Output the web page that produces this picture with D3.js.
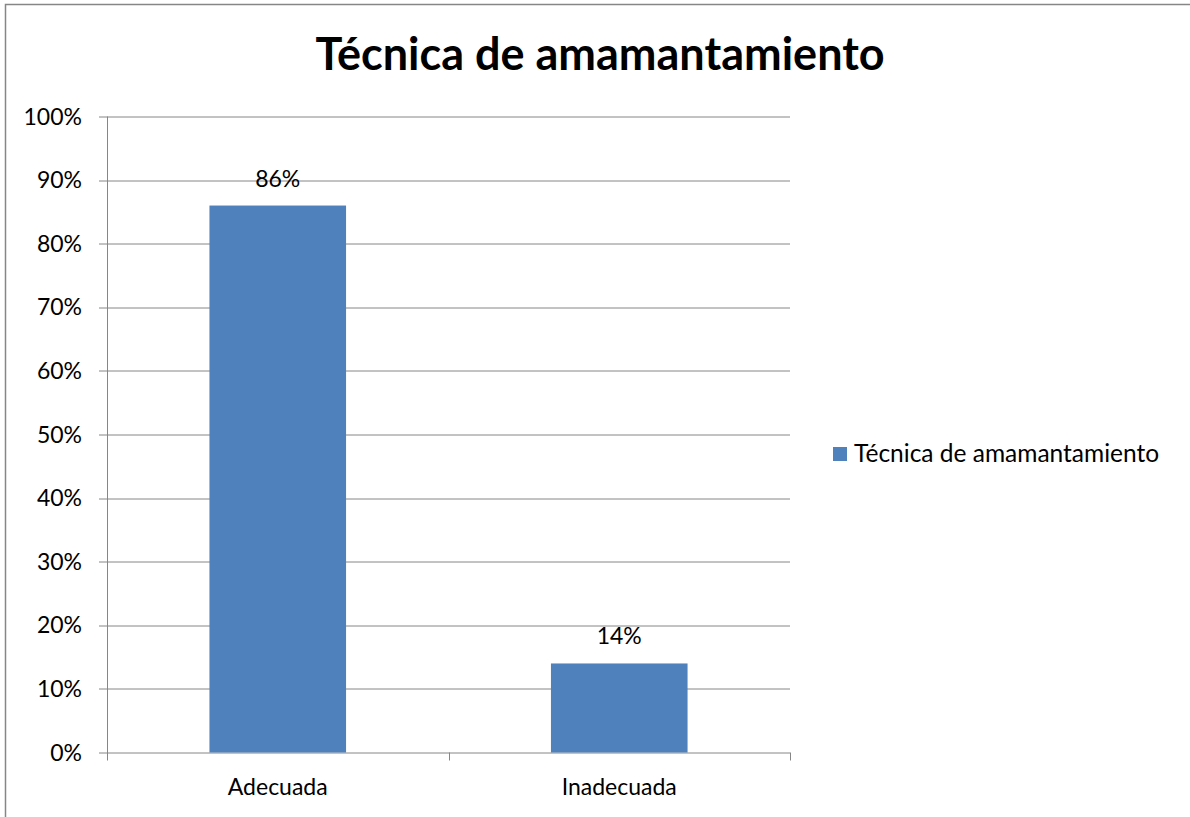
<!DOCTYPE html>
<html>
<head>
<meta charset="utf-8">
<script src="https://cdn.jsdelivr.net/npm/d3@7"></script>
<style>
  body { margin: 0; background: #fff; }
  text { font-family: Lato, "Open Sans", sans-serif; fill: #000; }
</style>
</head>
<body>
<script>
 ///////////////////////////////////////////////////////
 // data

 var categories = ["Adecuada", "Inadecuada"];
 var values = [0.86, 0.14];
 var seriesName = "Técnica de amamantamiento";
 var tickValues = [0, 0.1, 0.2, 0.3, 0.4, 0.5, 0.6, 0.7, 0.8, 0.9, 1];

 ///////////////////////////////////////////////////////
 // margins

 var w = 1190;
 var h = 817;
 var svg = d3.select("body").append("svg")
   .attr("width", w)
   .attr("height", h),
   margin = { top: 116.5, left: 107, right: 400, bottom: 64.5 },
   width = w - margin.left - margin.right,
   height = h - margin.top - margin.bottom;

 // outer chart border
 svg.append("rect")
   .attr("x", 5.5).attr("y", 4.5)
   .attr("width", w + 10).attr("height", h + 10)
   .attr("fill", "none")
   .attr("stroke", "#868686")
   .attr("stroke-width", 1.5);

 ///////////////////////////////////////////////////////
 // scales

 var x = d3.scaleBand()
   .domain(categories)
   .range([0, width])
   .paddingInner(0.6)
   .paddingOuter(0.3);
 var xEdge = d3.scaleLinear().domain([0, categories.length]).range([0, width]);
 var y = d3.scaleLinear()
   .domain([0, 1])
   .range([height, 0]);

 var chart = svg.append("g")
   .attr("transform", "translate(" + margin.left + "," + margin.top + ")");

 // gridlines
 chart.append("g")
   .selectAll("line")
   .data(tickValues)
   .enter().append("line")
   .attr("x1", -8)
   .attr("x2", width)
   .attr("y1", function(d) { return Math.round(y(d)) + 0.5; })
   .attr("y2", function(d) { return Math.round(y(d)) + 0.5; })
   .attr("stroke", "#868686")
   .attr("stroke-width", 1);

 // y axis line
 chart.append("line")
   .attr("x1", 0.5).attr("x2", 0.5)
   .attr("y1", 0).attr("y2", height + 8)
   .attr("stroke", "#868686");

 // y tick labels
 chart.append("g")
   .selectAll("text")
   .data(tickValues)
   .enter().append("text")
   .attr("x", -25)
   .attr("y", function(d) { return y(d); })
   .attr("dy", "0.35em")
   .attr("text-anchor", "end")
   .style("font-size", "23px")
   .text(d3.format(".0%"));

 // x category tick marks
 chart.append("g")
   .selectAll("line")
   .data(d3.range(1, categories.length + 1))
   .enter().append("line")
   .attr("x1", function(d) { return Math.round(xEdge(d)) + 0.5; })
   .attr("x2", function(d) { return Math.round(xEdge(d)) + 0.5; })
   .attr("y1", height)
   .attr("y2", height + 8)
   .attr("stroke", "#868686");

 ///////////////////////////////////////////////////////
 // bars

 chart.selectAll(".bar")
   .data(values)
   .enter().append("rect")
   .attr("class", "bar")
   .attr("x", function(d, i) { return x(categories[i]); })
   .attr("width", x.bandwidth())
   .attr("y", function(d) { return y(d); })
   .attr("height", function(d) { return height - y(d); })
   .attr("fill", "#4F81BD");

 // data labels
 chart.selectAll(".dlabel")
   .data(values)
   .enter().append("text")
   .attr("x", function(d, i) { return x(categories[i]) + x.bandwidth() / 2; })
   .attr("y", function(d) { return y(d) - 19; })
   .attr("text-anchor", "middle")
   .style("font-size", "23px")
   .text(d3.format(".0%"));

 // category labels
 chart.selectAll(".clabel")
   .data(categories)
   .enter().append("text")
   .attr("x", function(d) { return x(d) + x.bandwidth() / 2; })
   .attr("y", height + 42)
   .attr("text-anchor", "middle")
   .style("font-size", "23px")
   .text(function(d) { return d; });

 ///////////////////////////////////////////////////////
 // title + legend

 svg.append("text")
   .attr("x", 600)
   .attr("y", 70)
   .attr("text-anchor", "middle")
   .style("font-size", "45px")
   .style("font-weight", "bold")
   .text(seriesName);

 var legend = svg.append("g")
   .attr("transform", "translate(833,447)");
 legend.append("rect")
   .attr("width", 14).attr("height", 14)
   .attr("fill", "#4F81BD");
 legend.append("text")
   .attr("x", 21)
   .attr("y", 15)
   .style("font-size", "24.5px")
   .text(seriesName);
</script>
</body>
</html>
